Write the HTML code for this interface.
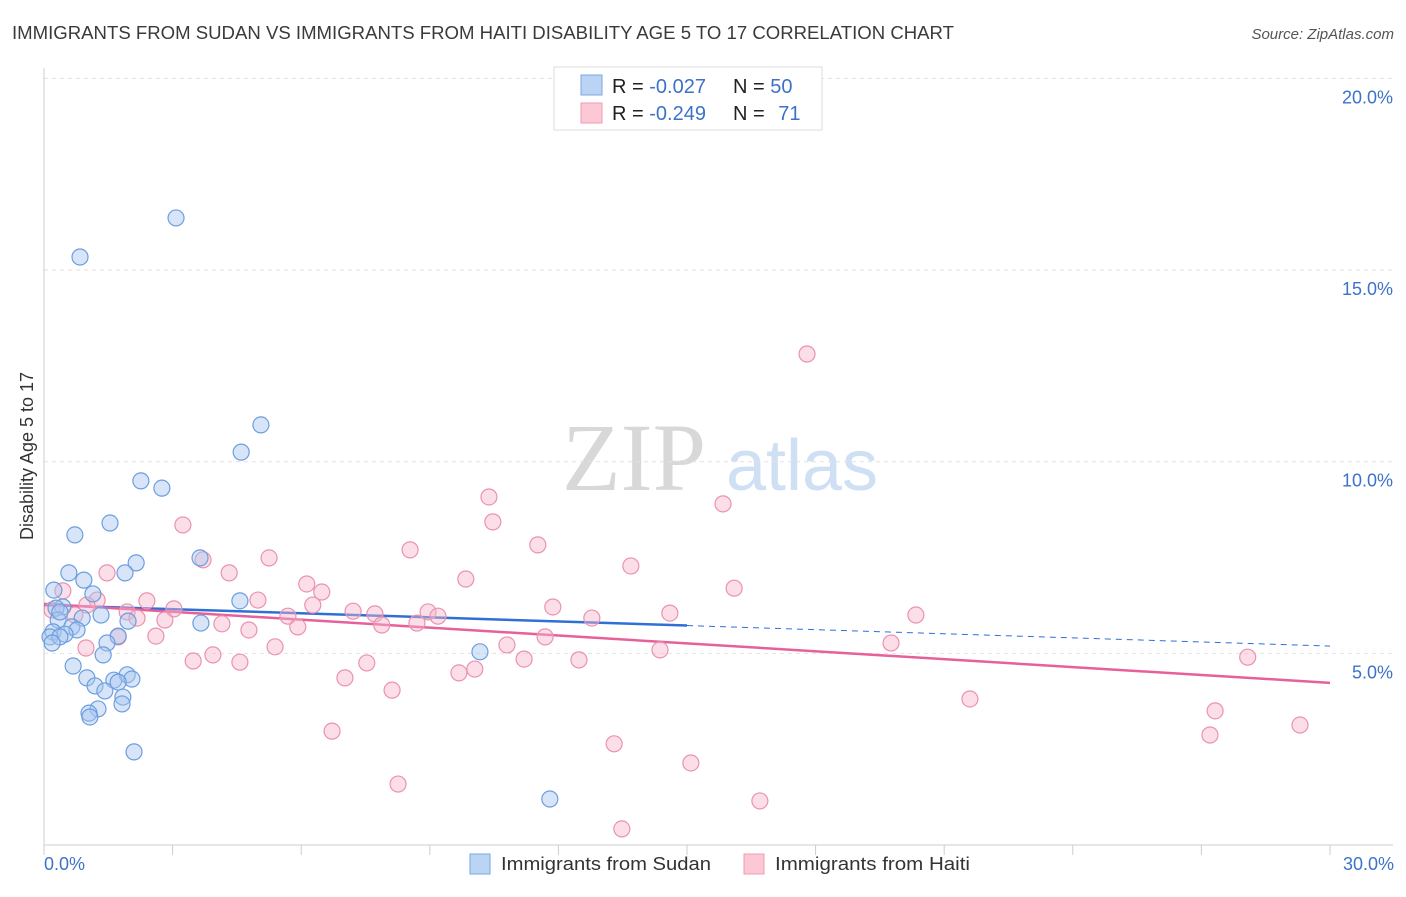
<!DOCTYPE html>
<html><head><meta charset="utf-8"><style>
body{margin:0;background:#fff;font-family:"Liberation Sans",sans-serif;}
</style></head><body>
<svg id="chart" width="1406" height="892" xmlns="http://www.w3.org/2000/svg" font-family="Liberation Sans, sans-serif">
<text x="12" y="39" font-size="18" fill="#3a3a3a" textLength="942" lengthAdjust="spacingAndGlyphs">IMMIGRANTS FROM SUDAN VS IMMIGRANTS FROM HAITI DISABILITY AGE 5 TO 17 CORRELATION CHART</text>
<text x="1394" y="39" font-size="15" fill="#555" text-anchor="end" font-style="italic">Source: ZipAtlas.com</text>
<text transform="translate(33,456) rotate(-90)" font-size="18" fill="#333" text-anchor="middle">Disability Age 5 to 17</text>
<g><text x="634" y="490" font-size="96" fill="#d8d8d8" text-anchor="middle" font-family="Liberation Serif, serif">ZIP</text><text x="802" y="490" font-size="72" fill="#cfe0f4" text-anchor="middle">atlas</text></g>
<g id="grid"></g><g id="axes"></g><g id="trend"></g><g id="pts"></g>
<g>
<rect x="554" y="67" width="268" height="63" fill="#fff" stroke="#ddd"/>
<rect x="581" y="75" width="21" height="20" fill="#bcd4f4" stroke="#7aa6e4"/>
<rect x="581" y="103" width="21" height="20" fill="#fcc8d6" stroke="#ee9db6"/>
<text x="612" y="93" font-size="20" fill="#222">R = <tspan fill="#3d72c9">-0.027</tspan></text>
<text x="733" y="93" font-size="20" fill="#222">N = <tspan fill="#3d72c9">50</tspan></text>
<text x="612" y="120" font-size="20" fill="#222">R = <tspan fill="#3d72c9">-0.249</tspan></text>
<text x="733" y="120" font-size="20" fill="#222">N = <tspan fill="#3d72c9" dx="8">71</tspan></text>
</g>
<g>
<rect x="470" y="854" width="20" height="20" fill="#bcd4f4" stroke="#7aa6e4"/>
<text x="501" y="870" font-size="18" fill="#333" textLength="210" lengthAdjust="spacingAndGlyphs">Immigrants from Sudan</text>
<rect x="744" y="854" width="20" height="20" fill="#fcc8d6" stroke="#ee9db6"/>
<text x="775" y="870" font-size="18" fill="#333" textLength="195" lengthAdjust="spacingAndGlyphs">Immigrants from Haiti</text>
</g>
</svg>
<script>
const yTicks=[5,10,15,20];
const yTickLabels=["5.0%","10.0%","15.0%","20.0%"];
const xTickLabels=["0.0%","30.0%"];
const sudanX=[3.08,0.84,5.06,4.60,2.26,2.75,1.54,0.72,3.64,2.15,1.89,0.58,0.93,0.23,1.14,4.57,0.44,0.28,1.33,0.33,1.96,0.89,3.66,0.65,0.77,0.21,0.49,1.73,0.14,0.37,0.19,1.47,1.38,10.17,0.68,1.00,1.94,1.63,2.05,1.73,1.19,1.42,1.84,1.82,1.26,1.05,1.07,2.10,11.80,0.37];
const sudanY=[16.36,15.34,10.96,10.25,9.50,9.31,8.40,8.09,7.49,7.36,7.10,7.10,6.91,6.65,6.55,6.37,6.21,6.18,6.00,5.87,5.84,5.92,5.79,5.69,5.61,5.56,5.50,5.45,5.43,5.43,5.27,5.27,4.96,5.04,4.67,4.36,4.44,4.30,4.33,4.25,4.15,4.02,3.86,3.68,3.55,3.44,3.34,2.43,1.20,6.08];
const haitiX=[17.80,10.38,15.84,10.47,3.24,11.52,8.54,5.25,3.71,13.69,1.47,4.32,9.84,6.13,16.10,0.44,1.24,4.99,2.40,3.03,11.87,6.27,7.21,7.72,8.96,5.69,14.60,20.34,12.78,9.19,1.94,2.17,2.82,4.15,8.70,5.92,7.88,4.78,1.73,2.61,6.48,1.00,0.72,0.19,10.80,11.69,0.98,5.39,3.94,4.57,3.48,7.53,11.20,12.48,14.37,19.76,28.08,10.05,9.68,7.02,8.12,21.60,27.32,29.30,27.20,6.72,13.30,15.09,8.26,16.70,13.48];
const haitiY=[12.81,9.08,8.90,8.43,8.35,7.83,7.70,7.49,7.44,7.28,7.10,7.10,6.94,6.81,6.70,6.63,6.39,6.39,6.37,6.16,6.21,6.26,6.10,6.03,6.08,5.97,6.05,6.00,5.92,5.97,6.08,5.92,5.87,5.77,5.79,5.69,5.74,5.61,5.43,5.45,6.60,6.26,6.00,6.13,5.22,5.43,5.14,5.17,4.96,4.77,4.80,4.75,4.85,4.83,5.09,5.27,4.90,4.59,4.49,4.36,4.04,3.81,3.50,3.13,2.87,2.97,2.64,2.14,1.59,1.15,0.42];
const sudanTrend=[6.26,5.19];
const haitiTrend=[6.29,4.23];
const NS="http://www.w3.org/2000/svg";
const X0=44,X1=1330,Y0=845,PPY=38.33;
const sx=v=>X0+(X1-X0)*v/30;
const sy=v=>Y0-v*PPY;
function mk(tag,attrs,parent){const e=document.createElementNS(NS,tag);for(const k in attrs)e.setAttribute(k,attrs[k]);document.getElementById(parent).appendChild(e);return e;}
yTicks.forEach((t,i)=>{
 const g=mk('line',{x1:X0,x2:1393,y1:sy(t),y2:sy(t),stroke:'#e2e2e2','stroke-dasharray':'4,4'},'grid');
 
 
 const l=mk('text',{x:1393,y:sy(t)+25,'font-size':18,fill:'#3d72c9','text-anchor':'end'},'axes');
 l.textContent=yTickLabels[i];
 
 
});
const ax=mk('line',{x1:X0,x2:1393,y1:Y0,y2:Y0,stroke:'#ccc'},'axes');


const ay=mk('line',{x1:X0,x2:X0,y1:68,y2:Y0,stroke:'#ccc'},'axes');


for(let i=0;i<=10;i++){
 const t=mk('line',{x1:sx(i*3),x2:sx(i*3),y1:Y0,y2:Y0+10,stroke:'#ccc'},'axes');
 
 
}
[[0,'start',44],[30,'end',1394]].forEach((d,i)=>{
 const l=mk('text',{x:d[2],y:870,'font-size':18,fill:'#3d72c9','text-anchor':d[1]},'axes');
 l.textContent=xTickLabels[i];
 
 
});
function dots(xs,ys,fill,stroke,name){
 xs.forEach((x,i)=>{
  const c=mk('circle',{cx:sx(x),cy:sy(ys[i]),r:8,fill:fill,'fill-opacity':0.45,stroke:stroke,'stroke-width':1.2},'pts');
  
  
 });
}
dots(haitiX,haitiY,'#f7b6ca','#ea92b0','haiti-point');
dots(sudanX,sudanY,'#a8c6ef','#6b9edf','sudan-point');
const sSlope=(sudanTrend[1]-sudanTrend[0])/30;
const l1=mk('line',{x1:sx(0),y1:sy(sudanTrend[0]),x2:sx(15),y2:sy(sudanTrend[0]+sSlope*15),stroke:'#2f6fd6','stroke-width':2.5},'trend');


const l2=mk('line',{x1:sx(15),y1:sy(sudanTrend[0]+sSlope*15),x2:sx(30),y2:sy(sudanTrend[1]),stroke:'#2f6fd6','stroke-width':1,'stroke-dasharray':'6,5'},'trend');


const l3=mk('line',{x1:sx(0),y1:sy(haitiTrend[0]),x2:sx(30),y2:sy(haitiTrend[1]),stroke:'#e8609a','stroke-width':2.5},'trend');


</script>
</body></html>
